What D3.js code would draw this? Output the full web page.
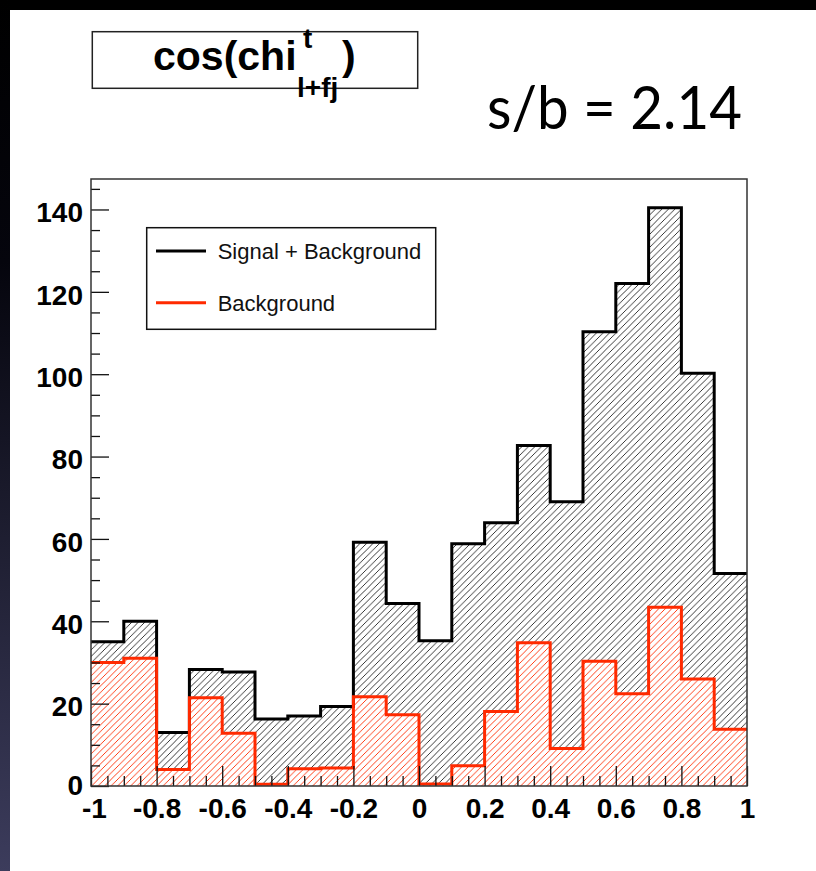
<!DOCTYPE html>
<html>
<head>
<meta charset="utf-8">
<script src="https://cdn.jsdelivr.net/npm/d3@7"></script>
<style>
  html, body { margin: 0; padding: 0; background: #000; }
  svg { display: block; }
</style>
</head>
<body>
<svg id="chart" width="816" height="871"></svg>
<script>
// ---------------- DATA ----------------
const binEdges = [-1, -0.9, -0.8, -0.7, -0.6, -0.5, -0.4, -0.3, -0.2, -0.1, 0,
                  0.1, 0.2, 0.3, 0.4, 0.5, 0.6, 0.7, 0.8, 0.9, 1];
const signalPlusBackground = [35, 40, 13, 28.3, 27.7, 16.3, 17, 19.3, 59.2, 44.3,
                              35.3, 58.8, 63.9, 82.7, 69, 110.3, 122, 140.4, 100.2, 51.6];
const background = [30, 31, 4, 21.4, 12.8, 0.4, 4.2, 4.4, 21.7, 17.3,
                    0.5, 4.9, 18.1, 34.8, 9.1, 30.3, 22.4, 43.4, 26, 13.8];
const xTickValues = [-1, -0.8, -0.6, -0.4, -0.2, 0, 0.2, 0.4, 0.6, 0.8, 1];
const yTickValues = [0, 20, 40, 60, 80, 100, 120, 140];
const legendLabels = ["Signal + Background", "Background"];
const titleText = { main: "cos(chi", sup: "t", sub: "l+fj", close: ")" };
const ratioText = "s/b = 2.14";

// ---------------- LAYOUT ----------------
const W = 816, H = 871;
const frame = { left: 91, right: 747, top: 179, bottom: 786 };
const yMax = 147.4;
const black = "#000", red = "#ff2a00";
const font = "'Liberation Sans', Arial, Helvetica, sans-serif";

const svg = d3.select("#chart");
const defs = svg.append("defs");

// page background: black border, left gradient strip, white panel
const grad = defs.append("linearGradient").attr("id", "leftStrip")
  .attr("x1", 0).attr("y1", 0).attr("x2", 0).attr("y2", 1);
grad.append("stop").attr("offset", "0%").attr("stop-color", "#000");
grad.append("stop").attr("offset", "30%").attr("stop-color", "#05050d");
grad.append("stop").attr("offset", "100%").attr("stop-color", "#3c3c5c");

svg.append("rect").attr("width", W).attr("height", H).attr("fill", "#000");
svg.append("rect").attr("x", 0).attr("y", 0).attr("width", 10).attr("height", H).attr("fill", "url(#leftStrip)");
svg.append("rect").attr("x", 10).attr("y", 10).attr("width", W - 10).attr("height", H - 10).attr("fill", "#fff");

// hatch patterns
function hatch(id, color) {
  const s = 6.5;
  const p = defs.append("pattern").attr("id", id)
    .attr("patternUnits", "userSpaceOnUse").attr("width", s).attr("height", s);
  p.append("path")
    .attr("d", `M0,${s} L${s},0 M${-s/2},${s/2} L${s/2},${-s/2} M${s/2},${s*1.5} L${s*1.5},${s/2}`)
    .attr("stroke", color).attr("stroke-width", 0.9).attr("fill", "none");
}
hatch("hatchK", "#222");
hatch("hatchR", red);

// scales
const x = d3.scaleLinear().domain([-1, 1]).range([frame.left, frame.right]);
const y = d3.scaleLinear().domain([0, yMax]).range([frame.bottom, frame.top]);

function areaPath(vals) {
  let d = `M${x(binEdges[0])},${y(0)}`;
  vals.forEach((v, i) => {
    d += `L${x(binEdges[i])},${y(v)}L${x(binEdges[i + 1])},${y(v)}`;
  });
  d += `L${x(binEdges[binEdges.length - 1])},${y(0)}Z`;
  return d;
}
function stepPath(vals) {
  let d = "";
  vals.forEach((v, i) => {
    d += (i === 0 ? "M" : "L") + `${x(binEdges[i])},${y(v)}L${x(binEdges[i + 1])},${y(v)}`;
  });
  return d;
}

// histogram fills
svg.append("path").attr("d", areaPath(signalPlusBackground)).attr("fill", "url(#hatchK)");
svg.append("path").attr("d", areaPath(background)).attr("fill", "#fff");
svg.append("path").attr("d", areaPath(background)).attr("fill", "url(#hatchR)");

// outlines
svg.append("path").attr("d", stepPath(signalPlusBackground))
  .attr("fill", "none").attr("stroke", black).attr("stroke-width", 3).attr("stroke-linejoin", "miter");
svg.append("path").attr("d", stepPath(background))
  .attr("fill", "none").attr("stroke", red).attr("stroke-width", 3).attr("stroke-linejoin", "miter");

// axes
const fmt = d => (Math.abs(d) < 1e-9 ? "0" : String(+d.toFixed(1)));
const xMinor = d3.range(-1, 1.0001, 0.05).map(v => +v.toFixed(2))
  .filter(v => !xTickValues.some(t => Math.abs(t - v) < 1e-6));
const yMinor = d3.range(0, yMax, 5).filter(v => v % 20 !== 0);

const gx = svg.append("g").attr("transform", `translate(0,${frame.bottom})`)
  .call(d3.axisBottom(x).tickValues(xTickValues).tickFormat(fmt).tickSize(-20).tickPadding(12));
const gxm = svg.append("g").attr("transform", `translate(0,${frame.bottom})`)
  .call(d3.axisBottom(x).tickValues(xMinor).tickFormat("").tickSize(-10));
const gy = svg.append("g").attr("transform", `translate(${frame.left},0)`)
  .call(d3.axisLeft(y).tickValues(yTickValues).tickFormat(fmt).tickSize(-18).tickPadding(8));
const gym = svg.append("g").attr("transform", `translate(${frame.left},0)`)
  .call(d3.axisLeft(y).tickValues(yMinor).tickFormat("").tickSize(-9));

[gx, gxm, gy, gym].forEach(g => {
  g.select(".domain").remove();
  g.selectAll(".tick line").attr("stroke", "#111").attr("stroke-width", 1.3);
  g.selectAll(".tick text").attr("fill", "#000").style("font-family", font)
    .style("font-weight", "bold").style("font-size", "28px");
});
gy.selectAll(".tick text").attr("dy", "0.44em");
gx.selectAll(".tick text").attr("dy", "0.71em");
// keep the corner labels "0" (y) and "-1" (x) from colliding
gy.selectAll(".tick text").filter(d => d === 0).attr("dy", "0.3em");
gx.selectAll(".tick text").filter(d => d === -1).attr("dx", 3);

// frame
svg.append("rect").attr("x", frame.left).attr("y", frame.top)
  .attr("width", frame.right - frame.left).attr("height", frame.bottom - frame.top)
  .attr("fill", "none").attr("stroke", "#333").attr("stroke-width", 1.5);

// legend
const leg = svg.append("g");
leg.append("rect").attr("x", 146.7).attr("y", 227.7).attr("width", 289).attr("height", 101.6)
  .attr("fill", "#fff").attr("stroke", "#111").attr("stroke-width", 1.5);
const legColors = [black, red];
const legY = [251, 302.7];
legendLabels.forEach((lab, i) => {
  leg.append("line").attr("x1", 156).attr("x2", 206).attr("y1", legY[i]).attr("y2", legY[i])
    .attr("stroke", legColors[i]).attr("stroke-width", 3);
  leg.append("text").attr("x", 217.7).attr("y", legY[i] + 7.8).text(lab)
    .style("font-family", font).style("font-size", "22px").attr("fill", "#111");
});

// title box
svg.append("rect").attr("x", 92.3).attr("y", 31.7).attr("width", 325.4).attr("height", 56.6)
  .attr("fill", "#fff").attr("stroke", "#222").attr("stroke-width", 1.5);
const tg = svg.append("g").style("font-family", font).style("font-weight", "bold").attr("fill", "#000");
tg.append("text").attr("x", 153).attr("y", 70).style("font-size", "41px").text(titleText.main);
tg.append("text").attr("x", 303).attr("y", 48).style("font-size", "28px").text(titleText.sup);
tg.append("text").attr("x", 297).attr("y", 97).style("font-size", "28px").text(titleText.sub);
tg.append("text").attr("x", 342).attr("y", 70).style("font-size", "41px").text(titleText.close);

// s/b text
svg.append("text").attr("x", 487).attr("y", 129).text(ratioText)
  .attr("textLength", 255).attr("lengthAdjust", "spacingAndGlyphs")
  .style("font-family", "Lato, 'Open Sans', sans-serif").style("font-size", "60px").attr("fill", "#000");
</script>
</body>
</html>
